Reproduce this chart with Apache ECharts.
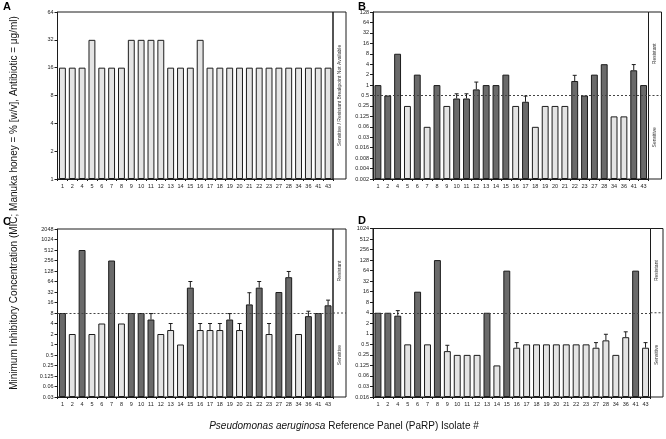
<!DOCTYPE html>
<html><head><meta charset="utf-8">
<script src="https://cdn.jsdelivr.net/npm/echarts@6/dist/echarts.min.js"></script>
<style>html,body{margin:0;padding:0;background:#fff}#c{width:666px;height:439px}</style>
</head><body><div id="c"></div>
<script>
const isolates = ['1','2','4','5','6','7','8','9','10','11','12','13','14','15','16','17','18','19','20','21','22','23','27','28','34','36','41','43'];

// Panel A (Manuka honey, % w/v)
const aValues = [16,16,16,32,16,16,16,32,32,32,32,16,16,16,32,16,16,16,16,16,16,16,16,16,16,16,16,16];
const aDark   = [0,0,0,0,0,0,0,0,0,0,0,0,0,0,0,0,0,0,0,0,0,0,0,0,0,0,0,0];
const aErrTop = [null,null,null,null,null,null,null,null,null,null,null,null,null,null,null,null,null,null,null,null,null,null,null,null,null,null,null,null];
const aTicks  = ['1','2','4','8','16','32','64'];

// Panel B
const bValues = [1,0.5,8,0.25,2,0.0625,1,0.25,0.41,0.41,0.75,1,1,2,0.25,0.33,0.0625,0.25,0.25,0.25,1.31,0.5,2,4,0.125,0.125,2.67,1];
const bDark   = [1,1,1,0,1,0,1,0,1,1,1,1,1,1,0,1,0,0,0,0,1,1,1,1,0,0,1,1];
const bErrTop = [null,null,null,null,null,null,null,null,0.56,0.56,1.22,null,null,null,null,0.48,null,null,null,null,1.91,null,null,null,null,null,3.9,null];
const bTicks  = ['0.002','0.004','0.008','0.016','0.03','0.06','0.125','0.25','0.5','1','2','4','8','16','32','64','128'];
const bBreakpoint = 0.5;

// Panel C
const cValues = [8,2,512,2,4,256,4,8,8,5.2,2,2.6,1,42.7,2.6,2.6,2.6,5.2,2.6,14.1,42.7,2,32,85,2,6.5,8,13.3];
const cDark   = [1,0,1,0,0,1,0,1,1,1,0,0,0,1,0,0,0,1,0,1,1,0,1,1,0,1,1,1];
const cErrTop = [null,null,null,null,null,null,null,null,null,7.7,null,4,null,64,4,4,4,7.7,4,30.5,64,4,null,124,null,9,null,18.7];
const cTicks  = ['0.03','0.06','0.125','0.25','0.5','1','2','4','8','16','32','64','128','256','512','1024','2048'];
const cBreakpoint = 8;

// Panel D
const dValues = [4,4,3.3,0.5,16,0.5,128,0.32,0.25,0.25,0.25,4,0.125,64,0.4,0.5,0.5,0.5,0.5,0.5,0.5,0.5,0.4,0.65,0.25,0.8,64,0.4];
const dDark   = [1,1,1,0,1,0,1,0,0,0,0,1,0,1,0,0,0,0,0,0,0,0,0,0,0,0,1,0];
const dErrTop = [null,null,4.6,null,null,null,null,0.47,null,null,null,null,null,null,0.56,null,null,null,null,null,null,null,0.56,0.97,null,1.14,null,0.56];
const dTicks  = ['0.016','0.03','0.06','0.125','0.25','0.5','1','2','4','8','16','32','64','128','256','512','1024'];
const dBreakpoint = 4;

const FONT = "'Liberation Sans', Arial, sans-serif";
const LIGHT = '#e4e4e4', DARK = '#6a6a6a', EDGE = '#1c1c1c';

const panels = [
  {letter:'A', values:aValues, dark:aDark, err:aErrTop, ticks:aTicks, minExp:0,  bp:null,
   grid:{left:57.5, top:12, width:275.5, height:167}, box:{left:333, width:13}, boxText:'Sensitive / Resistant Breakpoint Not Available', lx:3, ly:1},
  {letter:'B', values:bValues, dark:bDark, err:bErrTop, ticks:bTicks, minExp:-9, bp:bBreakpoint,
   grid:{left:373, top:12, width:275.5, height:167}, box:{left:648.5, width:13}, lx:358, ly:1},
  {letter:'C', values:cValues, dark:cDark, err:cErrTop, ticks:cTicks, minExp:-5, bp:cBreakpoint,
   grid:{left:57.5, top:229, width:275.5, height:168}, box:{left:333, width:13}, lx:3, ly:216},
  {letter:'D', values:dValues, dark:dDark, err:dErrTop, ticks:dTicks, minExp:-6, bp:dBreakpoint,
   grid:{left:373, top:228.5, width:277.5, height:168.5}, box:{left:650.5, width:12.5}, lx:358, ly:215}
];

const grids = [], xAxes = [], yAxes = [], series = [];

panels.forEach((p, k) => {
  const mi = 2*k, bi = 2*k+1;
  const minV = Math.pow(2, p.minExp);
  const maxV = Math.pow(2, p.minExp + p.ticks.length - 1);
  grids.push({left:p.grid.left, top:p.grid.top, width:p.grid.width, height:p.grid.height,
    show:true, borderColor:EDGE, borderWidth:1, containLabel:false});
  grids.push({left:p.box.left, top:p.grid.top, width:p.box.width, height:p.grid.height,
    show:true, borderColor:EDGE, borderWidth:1, containLabel:false});
  xAxes.push({type:'category', gridIndex:mi, data:isolates,
    axisLine:{lineStyle:{color:EDGE, width:1}},
    axisTick:{show:true, length:2, lineStyle:{color:EDGE}},
    axisLabel:{interval:0, fontSize:5.5, color:'#222', margin:4, fontFamily:FONT}});
  xAxes.push({type:'value', gridIndex:bi, min:0, max:1, show:false});
  yAxes.push({type:'log', logBase:2, gridIndex:mi, min:minV, max:maxV, interval:1,
    splitNumber:p.ticks.length-1, startValue:minV,
    axisLine:{show:true, lineStyle:{color:EDGE, width:1}},
    axisTick:{show:true, length:3, lineStyle:{color:EDGE}},
    splitLine:{show:false},
    axisLabel:{fontSize:5.5, color:'#222', margin:4, fontFamily:FONT,
      formatter: v => p.ticks[Math.round(Math.log2(v) - p.minExp)] || ''}});
  yAxes.push({type:'log', logBase:2, gridIndex:bi, min:minV, max:maxV, show:false});

  const barBase = {type:'bar', xAxisIndex:mi, yAxisIndex:mi, barWidth:'70%', barGap:'-100%', silent:true};
  series.push(Object.assign({}, barBase, {
    data: p.values.map((v,i) => p.dark[i] ? null : v),
    itemStyle:{color:LIGHT, borderColor:EDGE, borderWidth:1}}));
  const darkSeries = Object.assign({}, barBase, {
    data: p.values.map((v,i) => p.dark[i] ? v : null),
    itemStyle:{color:DARK, borderColor:EDGE, borderWidth:1}});
  if (p.bp !== null) {
    darkSeries.markLine = {silent:true, symbol:'none', label:{show:false},
      lineStyle:{type:[2,2], color:'#444', width:1}, data:[{yAxis:p.bp}]};
    series.push({type:'line', xAxisIndex:bi, yAxisIndex:bi, symbol:'none', silent:true,
      data:[[0,p.bp],[1,p.bp]], lineStyle:{type:[2,2], color:'#444', width:1}});
  }
  series.push(darkSeries);

  const errData = [];
  p.err.forEach((e,i) => { if (e !== null) errData.push([i, p.values[i], e]); });
  if (errData.length) {
    series.push({type:'custom', xAxisIndex:mi, yAxisIndex:mi, silent:true, z:5,
      encode:{x:0, y:[1,2]}, data:errData,
      renderItem:(params, api) => {
        const x = api.value(0);
        const p0 = api.coord([x, api.value(1)]);
        const p1 = api.coord([x, api.value(2)]);
        return {type:'group', children:[
          {type:'line', shape:{x1:p0[0], y1:p0[1], x2:p1[0], y2:p1[1]}, style:{stroke:EDGE, lineWidth:1}},
          {type:'line', shape:{x1:p1[0]-2, y1:p1[1], x2:p1[0]+2, y2:p1[1]}, style:{stroke:EDGE, lineWidth:1}}
        ]};
      }});
  }
});

const chart = echarts.init(document.getElementById('c'), null, {renderer:'canvas'});
chart.setOption({animation:false, backgroundColor:'#fff', grid:grids, xAxis:xAxes, yAxis:yAxes, series:series});

const graphics = [];
panels.forEach((p, k) => {
  graphics.push({type:'text', x:p.lx, y:p.ly, style:{text:p.letter, font:"bold 11px " + FONT, fill:'#000'}});
  const cx = p.box.left + p.box.width/2;
  const top = p.grid.top, bottom = p.grid.top + p.grid.height;
  const small = "5px " + FONT;
  if (p.bp === null) {
    graphics.push({type:'text', x:cx, y:(top+bottom)/2, rotation:Math.PI/2,
      style:{text:p.boxText, font:small, fill:'#333', align:'center', verticalAlign:'middle'}});
  } else {
    const yb = chart.convertToPixel({gridIndex:2*k+1}, [0.5, p.bp])[1];
    graphics.push({type:'text', x:cx, y:(top+yb)/2, rotation:Math.PI/2,
      style:{text:'Resistant', font:small, fill:'#333', align:'center', verticalAlign:'middle'}});
    graphics.push({type:'text', x:cx, y:(yb+bottom)/2, rotation:Math.PI/2,
      style:{text:'Sensitive', font:small, fill:'#333', align:'center', verticalAlign:'middle'}});
  }
});
graphics.push({type:'text', x:14, y:203, rotation:Math.PI/2,
  style:{text:'Minimum Inhibitory Concentration (MIC; Manuka honey = % [w/v], Antibiotic = μg/ml)',
    font:"10px " + FONT, fill:'#111', align:'center', verticalAlign:'middle'}});
graphics.push({type:'text', x:344, y:426,
  style:{text:'{i|Pseudomonas aeruginosa} Reference Panel (PaRP) Isolate #',
    font:"10px " + FONT, fill:'#111', align:'center', verticalAlign:'middle',
    rich:{i:{fontStyle:'italic', fontSize:10, fontFamily:FONT, fill:'#111'}}}});
chart.setOption({graphic:{elements:graphics}});
</script>
</body></html>
